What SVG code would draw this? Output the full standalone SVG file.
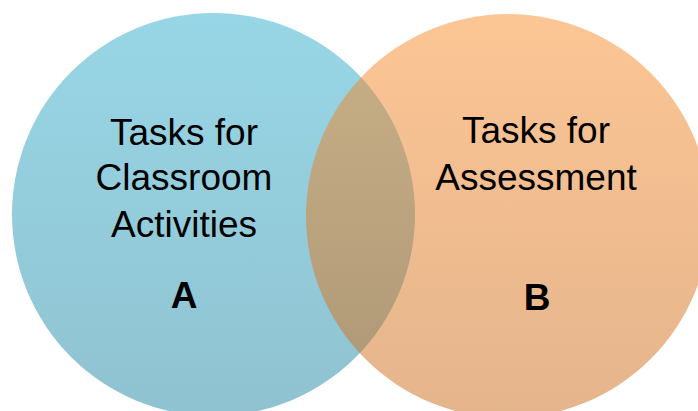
<svg xmlns="http://www.w3.org/2000/svg" width="698" height="411" viewBox="0 0 698 411">
  <defs>
    <linearGradient id="gBlue" x1="0" y1="0" x2="0" y2="1">
      <stop offset="0" stop-color="#31AECE"/>
      <stop offset="1" stop-color="#2286A2"/>
    </linearGradient>
    <linearGradient id="gOrange" x1="0" y1="0" x2="0" y2="1">
      <stop offset="0" stop-color="#FA8C2A"/>
      <stop offset="1" stop-color="#CA6A1A"/>
    </linearGradient>
  </defs>
  <style>
    .circle { fill-opacity: 0.5; stroke: none; }
    .label { font-family: "Liberation Sans", Arial, sans-serif; font-size: 37px; fill: #000000; text-anchor: middle; }
    .letter { font-weight: bold; }
  </style>
  <rect width="698" height="411" fill="#FFFFFF"/>
  <g id="nodeA">
    <circle class="circle" cx="213.5" cy="214.5" r="201.5" fill="url(#gBlue)"/>
    <text class="label" x="184" y="145">Tasks for</text>
    <text class="label" x="184" y="190">Classroom</text>
    <text class="label" x="184" y="236.5">Activities</text>
    <text class="label letter" x="184" y="307.5">A</text>
  </g>
  <g id="nodeB">
    <circle class="circle" cx="508" cy="216" r="202" fill="url(#gOrange)"/>
    <text class="label" x="536" y="142.5">Tasks for</text>
    <text class="label" x="536" y="189.5">Assessment</text>
    <text class="label letter" x="537" y="310">B</text>
  </g>
  <g id="connectors"/>
</svg>
